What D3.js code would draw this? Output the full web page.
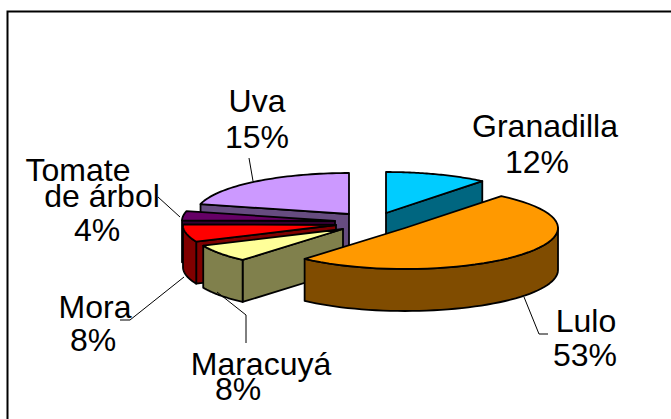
<!DOCTYPE html>
<html><head><meta charset="utf-8">
<script src="https://cdn.jsdelivr.net/npm/d3@7"></script>
<style>html,body{margin:0;padding:0;background:#fff;overflow:hidden}svg{display:block}</style>
</head><body><div id="chart"></div>
<script>
const categories = ["Granadilla","Lulo","Maracuyá","Mora","Tomate de árbol","Uva"];
const values = [12,53,8,8,4,15];
const topColors = ["#00CCFF","#FF9900","#FFFF99","#FF0000","#660066","#CC99FF"];
const sideColors = ["#006680","#804C00","#80804C","#800000","#330033","#664C80"];
const paintOrder = [0,5,4,3,2,1];
// where each slice's apex sits once exploded and tilted
const apexX = [386,405,343,336,335,349];
const apexY = [213,228,229,225,221,214];
// perspective warp: cumulative share -> drawn angle in degrees
const warpShare = [0,0.12,0.65,0.73,0.81,0.85,1];
const warpDegrees = [0,39,221,246,271,284,360];
const labelLines = [
  [{t:"Granadilla",x:545,y:137},{t:"12%",x:537,y:173}],
  [{t:"Lulo",x:586,y:332},{t:"53%",x:585,y:366}],
  [{t:"Maracuyá",x:261,y:375},{t:"8%",x:238,y:400}],
  [{t:"Mora",x:95,y:318},{t:"8%",x:93,y:351}],
  [{t:"Tomate",x:78,y:181},{t:"de árbol",x:102,y:207},{t:"4%",x:97,y:241}],
  [{t:"Uva",x:257,y:112},{t:"15%",x:257,y:148}]
];
const leaders = [
  [[524,297],[539,334],[548,334]],
  [[217,292],[246,315],[246,343]],
  [[184,277],[130,320],[120,320]],
  [[180,217],[158,197]],
  [[253,181],[249,158]]
];
const W=671,H=419,rx=153,ry=41,depth=42;
const svg=d3.select("#chart").append("svg").attr("width",W).attr("height",H);
svg.append("path").attr("d",d3.line()([[7.5,H+5],[7.5,11.5],[W+5,11.5]]))
  .attr("fill","none").attr("stroke","#000").attr("stroke-width",2);

const pieLayout=d3.pie().sort(null).value(d=>d)(values);
const toAngle=d3.scaleLinear().domain(warpShare).range(warpDegrees);
const rad=a=>toAngle(a/(2*Math.PI))*Math.PI/180;
const line=d3.line();
const closed=d3.line().curve(d3.curveLinearClosed);
const pt=(i,a,r=1,z=0)=>[apexX[i]+r*rx*Math.sin(a),apexY[i]-r*ry*Math.cos(a)+z];
const rim=(i,a0,a1,z)=>d3.range(0,49).map(k=>pt(i,a0+(a1-a0)*k/48,1,z));
const g=svg.append("g").attr("stroke","#000").attr("stroke-width",1.8).attr("stroke-linejoin","round");
paintOrder.forEach(i=>{
  const a0=rad(pieLayout[i].startAngle),a1=rad(pieLayout[i].endAngle);
  const faces=[];
  if(Math.sin(a0)<-1e-6) faces.push(a0);
  if(Math.sin(a1)>1e-6) faces.push(a1);
  faces.forEach(a=>{
    g.append("path").attr("d",closed([pt(i,a,0),pt(i,a),pt(i,a,1,depth),pt(i,a,0,depth)])).attr("fill",sideColors[i]);
  });
  const w0=Math.max(a0,Math.PI/2),w1=Math.min(a1,3*Math.PI/2);
  if(w1>w0){
    g.append("path").attr("d",closed(rim(i,w0,w1,0).concat(rim(i,w1,w0,depth)))).attr("fill",sideColors[i]);
  }
  g.append("path").attr("d",closed([pt(i,a0,0)].concat(rim(i,a0,a1,0)))).attr("fill",topColors[i]);
});
svg.append("g").attr("fill","none").attr("stroke","#000").attr("stroke-width",1)
  .selectAll("path").data(leaders).join("path").attr("d",d=>line(d));
svg.append("g").attr("font-family","'Liberation Sans',Arial,sans-serif").attr("font-size",32).attr("fill","#000").attr("text-anchor","middle")
  .selectAll("text").data(labelLines.flat()).join("text").attr("x",d=>d.x).attr("y",d=>d.y).text(d=>d.t);
</script></body></html>
